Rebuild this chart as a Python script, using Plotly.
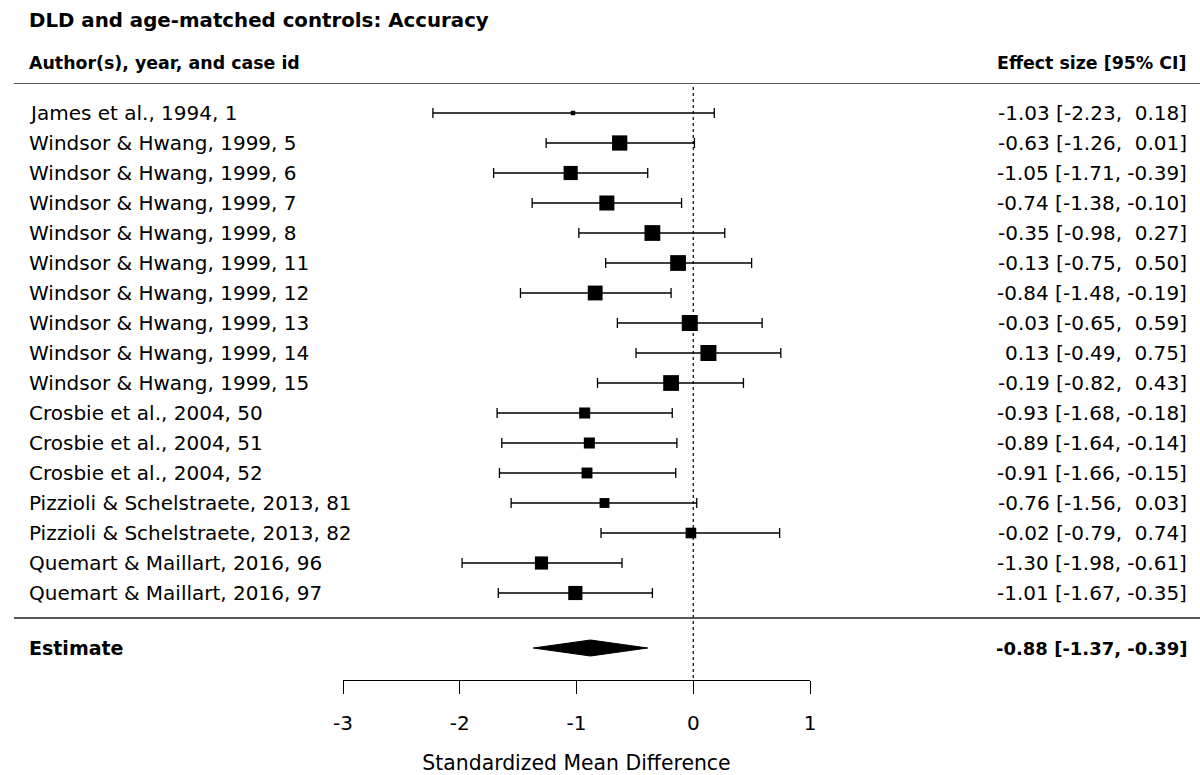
import plotly.graph_objects as go

# ---------------- data ----------------
studies = [
    "James et al., 1994, 1",
    "Windsor & Hwang, 1999, 5",
    "Windsor & Hwang, 1999, 6",
    "Windsor & Hwang, 1999, 7",
    "Windsor & Hwang, 1999, 8",
    "Windsor & Hwang, 1999, 11",
    "Windsor & Hwang, 1999, 12",
    "Windsor & Hwang, 1999, 13",
    "Windsor & Hwang, 1999, 14",
    "Windsor & Hwang, 1999, 15",
    "Crosbie et al., 2004, 50",
    "Crosbie et al., 2004, 51",
    "Crosbie et al., 2004, 52",
    "Pizzioli & Schelstraete, 2013, 81",
    "Pizzioli & Schelstraete, 2013, 82",
    "Quemart & Maillart, 2016, 96",
    "Quemart & Maillart, 2016, 97",
]
effect = [-1.03, -0.63, -1.05, -0.74, -0.35, -0.13, -0.84, -0.03, 0.13, -0.19,
          -0.93, -0.89, -0.91, -0.76, -0.02, -1.30, -1.01]
ci_low = [-2.23, -1.26, -1.71, -1.38, -0.98, -0.75, -1.48, -0.65, -0.49, -0.82,
          -1.68, -1.64, -1.66, -1.56, -0.79, -1.98, -1.67]
ci_high = [0.18, 0.01, -0.39, -0.10, 0.27, 0.50, -0.19, 0.59, 0.75, 0.43,
           -0.18, -0.14, -0.15, 0.03, 0.74, -0.61, -0.35]
pooled = [-0.88]
pooled_low = [-1.37]
pooled_high = [-0.39]
x_ticks = [-3, -2, -1, 0, 1]

title_text = "DLD and age-matched controls: Accuracy"
left_header = "Author(s), year, and case id"
right_header = "Effect size [95% CI]"
x_title = "Standardized Mean Difference"

# ---------------- layout geometry ----------------
W, H = 1200, 775
PL, PR = 343, 810          # pixel extent of x range [-3, 1]
PT, PB = 83, 680           # pixel extent of plot area (top rule, axis line)
ROW_PX = 30.0
k = len(studies)
rows = list(range(k, 0, -1))           # 17 ... 1
Y_TOP = k + 1.0
Y_BOT = Y_TOP - (PB - PT) / ROW_PX


def px_x(px):
    return (px - PL) / (PR - PL)


def px_y(py):
    return Y_TOP - (py - PT) / ROW_PX


def py_paper(py):
    return 1 - (py - PT) / (PB - PT)


est_row = px_y(648)
sep_row = px_y(618)

# marker sizes from inverse-variance weights (derived from CI widths)
vi = [((h - l) / (2 * 1.96)) ** 2 for l, h in zip(ci_low, ci_high)]
wi = [1 / v for v in vi]
wmin, wmax = min(wi), max(wi)
sizes = [4.5 + (w - wmin) / (wmax - wmin) * 11.5 for w in wi]

FONT = "DejaVu Sans, Liberation Sans, Arial, sans-serif"
TXT = 20

fig = go.Figure()

# study estimates with CIs
fig.add_trace(go.Scatter(
    x=effect, y=rows, mode="markers",
    marker=dict(symbol="square", size=sizes, color="black", opacity=1,
                line=dict(width=0)),
    error_x=dict(type="data", symmetric=False,
                 array=[h - e for e, h in zip(effect, ci_high)],
                 arrayminus=[e - l for e, l in zip(effect, ci_low)],
                 color="black", thickness=1.3, width=5),
    hoverinfo="skip", showlegend=False, cliponaxis=False,
))

# pooled diamond
dh = 8 / ROW_PX
fig.add_trace(go.Scatter(
    x=[pooled_low[0], pooled[0], pooled_high[0], pooled[0], pooled_low[0]],
    y=[est_row, est_row + dh, est_row, est_row - dh, est_row],
    mode="lines", fill="toself", fillcolor="black",
    line=dict(color="black", width=1),
    hoverinfo="skip", showlegend=False,
))

shapes = [
    dict(type="line", xref="paper", yref="y", x0=px_x(14), x1=px_x(1200),
         y0=Y_TOP, y1=Y_TOP, line=dict(color="#222", width=1.3), layer="above"),
    dict(type="line", xref="paper", yref="y", x0=px_x(14), x1=px_x(1200),
         y0=sep_row, y1=sep_row, line=dict(color="#222", width=1.3), layer="above"),
    dict(type="line", xref="x", yref="y", x0=0, x1=0,
         y0=px_y(87), y1=Y_BOT, line=dict(color="black", width=1.2, dash="dot"),
         layer="below"),
]

ann = []
# title and headers
ann.append(dict(text="<b>" + title_text + "</b>", xref="paper", yref="paper",
                x=px_x(27), y=py_paper(20), xanchor="left", yanchor="middle",
                showarrow=False, font=dict(size=19.8, color="black", family=FONT)))
ann.append(dict(text="<b>" + left_header + "</b>", xref="paper", yref="paper",
                x=px_x(27), y=py_paper(63), xanchor="left", yanchor="middle",
                showarrow=False, font=dict(size=17.4, color="black", family=FONT)))
ann.append(dict(text="<b>" + right_header + "</b>", xref="paper", yref="paper",
                x=px_x(1189), y=py_paper(63), xanchor="right", yanchor="middle",
                showarrow=False, font=dict(size=17.4, color="black", family=FONT)))


def fmt(v):
    return f"{v:.2f}"


def ci_text(e, l, h):
    hs = fmt(h)
    if h >= 0:
        hs = " " + hs
    return f"{fmt(e)} [{fmt(l)}, {hs}]".replace(" ", "\u00a0")


for name, r, e, l, h in zip(studies, rows, effect, ci_low, ci_high):
    ann.append(dict(text=name, xref="paper", yref="y", x=px_x(27), y=r,
                    xanchor="left", yanchor="middle", showarrow=False,
                    font=dict(size=TXT, color="black", family=FONT)))
    ann.append(dict(text=ci_text(e, l, h), xref="paper", yref="y",
                    x=px_x(1189), y=r, xanchor="right", yanchor="middle",
                    showarrow=False, font=dict(size=TXT, color="black", family=FONT)))

ann.append(dict(text="<b>Estimate</b>", xref="paper", yref="y", x=px_x(27), y=est_row,
                xanchor="left", yanchor="middle", showarrow=False,
                font=dict(size=19, color="black", family=FONT)))
ann.append(dict(text="<b>" + ci_text(pooled[0], pooled_low[0], pooled_high[0]) + "</b>",
                xref="paper", yref="y", x=px_x(1189), y=est_row,
                xanchor="right", yanchor="middle", showarrow=False,
                font=dict(size=18, color="black", family=FONT)))

fig.update_layout(
    width=W, height=H,
    margin=dict(l=PL, r=W - PR, t=PT, b=H - PB, pad=0, autoexpand=False),
    paper_bgcolor="white", plot_bgcolor="white",
    font=dict(family=FONT, color="black", size=TXT),
    shapes=shapes, annotations=ann, showlegend=False,
    xaxis=dict(range=[-3, 1], tickvals=x_ticks, ticktext=[str(t) for t in x_ticks],
               ticks="outside", ticklen=13, tickwidth=1.2, tickcolor="black",
               ticklabelstandoff=12, automargin=False,
               showline=True, linecolor="black", linewidth=1.2,
               showgrid=False, zeroline=False, fixedrange=True,
               tickfont=dict(size=TXT, color="black", family=FONT),
               title=dict(text=x_title, font=dict(size=20.4, color="black", family=FONT),
                          standoff=21)),
    yaxis=dict(range=[Y_BOT, Y_TOP], visible=False, showgrid=False, automargin=False,
               zeroline=False, fixedrange=True),
)

fig.write_html("out.html")
